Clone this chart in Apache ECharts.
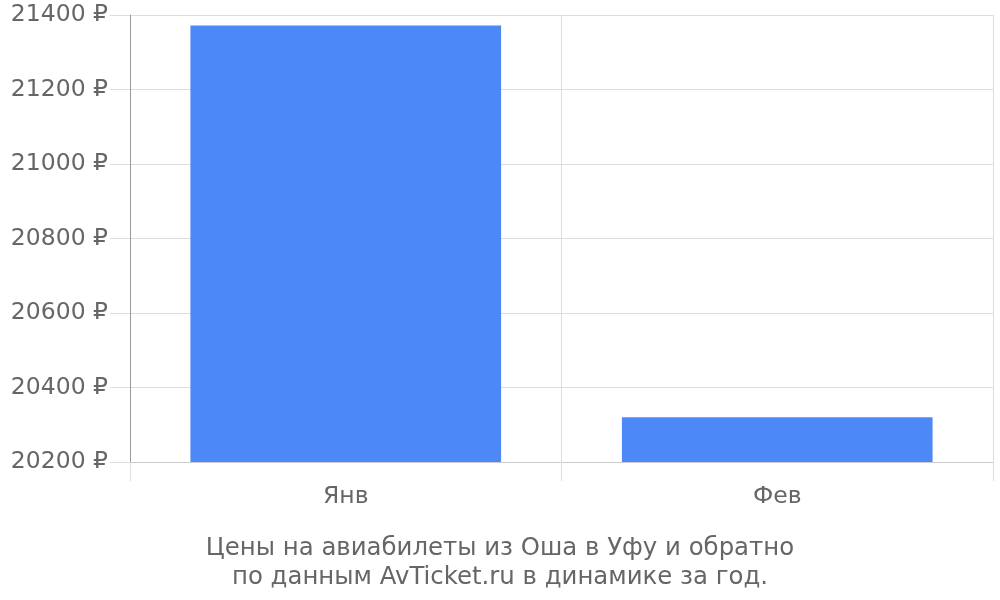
<!DOCTYPE html>
<html>
<head>
<meta charset="utf-8">
<script src="https://cdn.jsdelivr.net/npm/echarts@6/dist/echarts.min.js"></script>
<style>
html, body { margin: 0; padding: 0; background: #fff; }
#main { width: 1000px; height: 600px; }
</style>
</head>
<body>
<div id="main"></div>
<script>
// месяцы и цены
var months = ['Янв', 'Фев'];
var prices = [21372, 20320];
var yTicks = [20200, 21400, 200]; // min, max, шаг

var myChart = echarts.init(document.getElementById('main'));
var option = {
    animation: false,
    textStyle: { fontFamily: 'DejaVu Sans' },
    title: {
        text: 'Цены на авиабилеты из Оша в Уфу и обратно\nпо данным AvTicket.ru в динамике за год.',
        left: 495,
        top: 529,
        textAlign: 'center',
        textStyle: {
            color: '#666',
            fontSize: 24.4,
            fontWeight: 'normal',
            lineHeight: 29,
            fontFamily: 'DejaVu Sans'
        }
    },
    grid: {
        left: 130,
        right: 7,
        top: 15,
        bottom: 138
    },
    xAxis: {
        type: 'category',
        data: months,
        axisLine: { lineStyle: { color: '#ccc' } },
        axisTick: { show: true, length: 19, lineStyle: { color: '#ddd' } },
        axisLabel: { color: '#666', fontSize: 23.5, margin: 23 },
        splitLine: { show: true, lineStyle: { color: '#ddd' } }
    },
    yAxis: {
        type: 'value',
        min: yTicks[0],
        max: yTicks[1],
        interval: yTicks[2],
        axisLine: { show: true, lineStyle: { color: '#999' } },
        axisTick: { show: true, length: 20, lineStyle: { color: '#ddd' } },
        axisLabel: {
            color: '#666',
            fontSize: 23.5,
            margin: 22,
            formatter: function (v) { return v + ' ₽'; }
        },
        splitLine: { lineStyle: { color: '#ddd' } }
    },
    series: [
        {
            type: 'bar',
            data: prices,
            barWidth: '72%',
            itemStyle: { color: '#4d88f9' }
        }
    ]
};
myChart.setOption(option);
</script>
</body>
</html>
